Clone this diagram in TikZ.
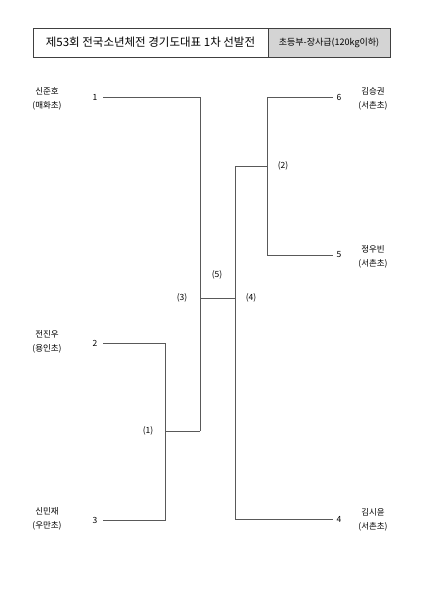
\documentclass[tikz,border=0pt]{standalone}
\usepackage{fontspec}
\setmainfont{Noto Sans CJK KR}
\begin{document}
\begin{tikzpicture}[x=1pt,y=-1pt,
  line/.style={draw=black!65,line width=0.9pt},
  num/.style={font=\fontsize{8.5}{9}\selectfont,inner sep=0pt},
  who/.style={font=\fontsize{8.5}{13.5}\selectfont,align=center,inner sep=0pt},
  rnd/.style={font=\fontsize{8.5}{9}\selectfont,inner sep=1pt}]
\useasboundingbox (0,0) rectangle (424,600);
% title box
\draw[black!75,line width=0.8pt] (33,28) rectangle (268,57);
\fill[black!17] (268,28) rectangle (390,57);
\draw[black!75,line width=0.8pt] (268,28) rectangle (390,57);
\node (title) at (150.5,42.5) {\fontsize{11.5}{12}\selectfont 제53회 전국소년체전 경기도대표 1차 선발전};
\node (sub) at (329,42.5) {\fontsize{9}{10}\selectfont 초등부-장사급(120kg이하)};
% names
\node[who] (w1) at (47,99) {신준호\\(매화초)};
\node[who] (w2) at (47,342) {전진우\\(용인초)};
\node[who] (w3) at (47,519) {신민재\\(우만초)};
\node[who] (w6) at (373,99) {김승권\\(서촌초)};
\node[who] (w5) at (373,257) {정우빈\\(서촌초)};
\node[who] (w4) at (373,520) {김시윤\\(서촌초)};
% numbers
\node[num] (n1) at (95,97) {1};
\node[num] (n2) at (95,343) {2};
\node[num] (n3) at (95,520) {3};
\node[num] (n6) at (339,97) {6};
\node[num] (n5) at (339,255) {5};
\node[num] (n4) at (339,519) {4};
% junction coordinates
\coordinate (s1) at (103,97);
\coordinate (s2) at (103,343);
\coordinate (s3) at (103,520);
\coordinate (e6) at (333,97);
\coordinate (e5) at (333,255);
\coordinate (e4) at (333,519);
\coordinate (a1) at (200,97);
\coordinate (a2) at (165,343);
\coordinate (a3) at (165,520);
\coordinate (m1) at (165,431);
\coordinate (m1r) at (200,431);
\coordinate (b6) at (267,97);
\coordinate (b5) at (267,255);
\coordinate (m2) at (267,166);
\coordinate (m2l) at (235,166);
\coordinate (b4) at (235,519);
\coordinate (c3) at (200,298);
\coordinate (c4) at (235,298);
% lines
\draw[line] (s1) -- (a1) -- (m1r);
\draw[line] (s2) -- (a2) -- (a3) -- (s3);
\draw[line] (m1) -- (m1r);
\draw[line] (e6) -- (b6) -- (b5) -- (e5);
\draw[line] (m2) -- (m2l) -- (b4) -- (e4);
\draw[line] (c3) -- (c4);
% round labels
\node[rnd] (r1) at (148,431) {(1)};
\node[rnd] (r2) at (283,166) {(2)};
\node[rnd] (r3) at (182,298) {(3)};
\node[rnd] (r4) at (251,298) {(4)};
\node[rnd] (r5) at (217,275) {(5)};
\end{tikzpicture}
\end{document}
